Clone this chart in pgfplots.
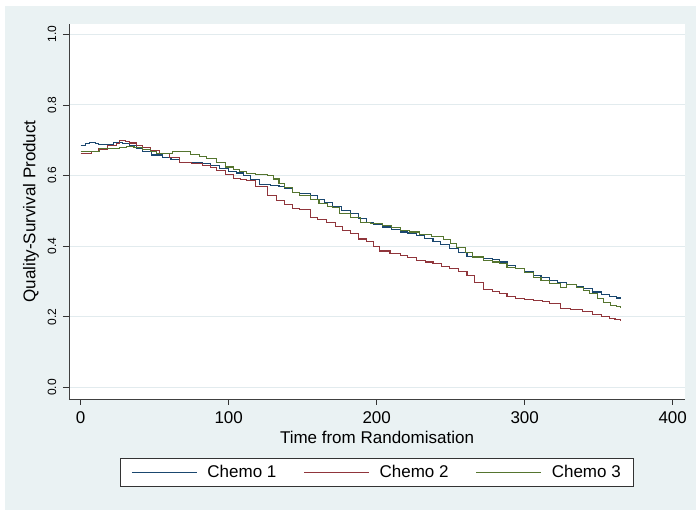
\documentclass[border=0pt]{standalone}
\usepackage{fontspec}
\setmainfont{Liberation Sans}
\usepackage{pgfplots}
\pgfplotsset{compat=1.18}
\definecolor{bgc}{RGB}{234,242,243}
\definecolor{gridc}{RGB}{226,235,238}
\definecolor{c1}{RGB}{26,71,111}
\definecolor{c2}{RGB}{144,53,59}
\definecolor{c3}{RGB}{85,117,47}
\begin{document}
\begin{tikzpicture}[x=1pt,y=1pt]
\useasboundingbox (0,0) rectangle (696,510);
\fill[bgc] (5,0) rectangle (696,504);
\begin{axis}[
  at={(69pt,111pt)}, anchor=south west,
  scale only axis, width=616pt, height=375pt,
  xmin=-7.9, xmax=408.3, ymin=-0.033, ymax=1.029,
  axis x line*=bottom, axis y line*=left,
  axis line style={black!75, line width=0.8pt},
  axis background/.style={fill=white},
  xtick={0,100,200,300,400}, ytick={0,0.2,0.4,0.6,0.8,1.0},
  tick align=outside, major tick length=6pt,
  tick style={black!80, line width=0.7pt},
  ymajorgrids, grid style={gridc, line width=0.9pt},
  /pgf/number format/assume math mode=true,
  xticklabel shift=3pt,
  yticklabel style={rotate=90, anchor=center, font=\fontsize{12}{14}\selectfont,
    /pgf/number format/fixed, /pgf/number format/fixed zerofill, /pgf/number format/precision=1},
  yticklabel shift=11pt,
  xticklabel style={font=\fontsize{17}{20}\selectfont},
  xlabel={Time from Randomisation},
  ylabel={Quality-Survival Product},
  xlabel style={font=\fontsize{17}{20}\selectfont, at={(axis description cs:0.5,-0.103)}, anchor=center},
  ylabel style={font=\fontsize{17}{20}\selectfont, at={(axis description cs:-0.0617,0.5)}, anchor=center},
  legend columns=3,
  legend style={at={(axis description cs:0.5,-0.196)}, anchor=center,
    draw=black!80, line width=0.8pt, fill=white,
    font=\fontsize{17}{20}\selectfont,
    inner xsep=11pt, inner ysep=5pt,
    /tikz/every odd column/.append style={column sep=8pt},
    /tikz/every even column/.append style={column sep=25pt}},
  legend image code/.code={\draw[#1, line width=1.2pt] (0pt,0pt) -- (65pt,0pt);},
  every axis plot/.append style={const plot, line width=1.1pt},
]
\addplot[c1] coordinates {
(0,0.686) (3,0.690) (6,0.694) (10,0.690) (12,0.688) (18,0.688) (22,0.694) (27,0.694) (28,0.691) (33,0.684) (38,0.676) (42,0.667) (48,0.658) (55,0.650) (61,0.645) (67,0.638) (75,0.636) (82,0.635) (88,0.628) (94,0.620) (100,0.612) (105,0.607) (110,0.600) (115,0.588) (121,0.575) (128,0.572) (134,0.569) (138,0.563) (143,0.553) (148,0.548) (155,0.544) (160,0.532) (165,0.523) (170,0.513) (176,0.502) (182,0.492) (188,0.479) (193,0.468) (198,0.462) (204,0.454) (210,0.447) (216,0.440) (221,0.437) (227,0.431) (232,0.421) (238,0.412) (243,0.404) (249,0.393) (255,0.382) (261,0.371) (266,0.367) (272,0.364) (278,0.362) (283,0.355) (288,0.345) (294,0.336) (300,0.327) (306,0.317) (311,0.310) (317,0.303) (322,0.298) (328,0.292) (335,0.286) (340,0.279) (346,0.270) (352,0.264) (357,0.258) (362,0.253) (365,0.251)
};
\addlegendentry{Chemo 1}
\addplot[c2] coordinates {
(0,0.662) (7,0.662) (7.5,0.669) (12,0.675) (18,0.686) (24,0.690) (26,0.698) (30,0.696) (33,0.692) (38,0.686) (42,0.679) (47,0.670) (53,0.662) (60,0.650) (67,0.638) (75,0.633) (82,0.629) (88,0.622) (92,0.615) (98,0.603) (103,0.591) (108,0.588) (112,0.586) (118,0.570) (126,0.544) (132,0.530) (138,0.518) (143,0.506) (148,0.503) (155,0.482) (160,0.475) (166,0.468) (172,0.455) (177,0.445) (182,0.435) (188,0.420) (193,0.412) (198,0.398) (202,0.386) (209,0.380) (216,0.374) (221,0.367) (227,0.360) (233,0.355) (238,0.350) (244,0.343) (249,0.336) (255,0.327) (261,0.317) (266,0.296) (272,0.276) (278,0.271) (283,0.265) (288,0.258) (294,0.251) (300,0.249) (306,0.246) (312,0.242) (317,0.237) (324,0.223) (331,0.220) (339,0.216) (346,0.207) (352,0.200) (357,0.194) (361,0.191) (365,0.190)
};
\addlegendentry{Chemo 2}
\addplot[c3] coordinates {
(0,0.669) (10,0.669) (13,0.676) (20,0.677) (26,0.679) (31,0.683) (36,0.680) (42,0.673) (47,0.668) (51,0.662) (60,0.662) (62,0.667) (71,0.667) (74,0.660) (80,0.655) (85,0.648) (92,0.636) (98,0.624) (103,0.617) (107,0.610) (112,0.605) (118,0.602) (126,0.600) (130,0.590) (134,0.577) (138,0.566) (143,0.553) (148,0.544) (155,0.533) (161,0.520) (167,0.512) (170,0.509) (175,0.492) (182,0.480) (189,0.468) (196,0.463) (204,0.459) (210,0.452) (216,0.445) (222,0.440) (229,0.433) (237,0.426) (245,0.418) (250,0.408) (254,0.397) (260,0.383) (265,0.369) (272,0.360) (278,0.355) (283,0.350) (288,0.339) (294,0.336) (300,0.324) (306,0.312) (311,0.302) (317,0.293) (324,0.282) (328,0.292) (335,0.284) (340,0.275) (344,0.265) (349,0.252) (353,0.239) (358,0.232) (362,0.228) (365,0.226)
};
\addlegendentry{Chemo 3}
\end{axis}
\end{tikzpicture}
\end{document}
